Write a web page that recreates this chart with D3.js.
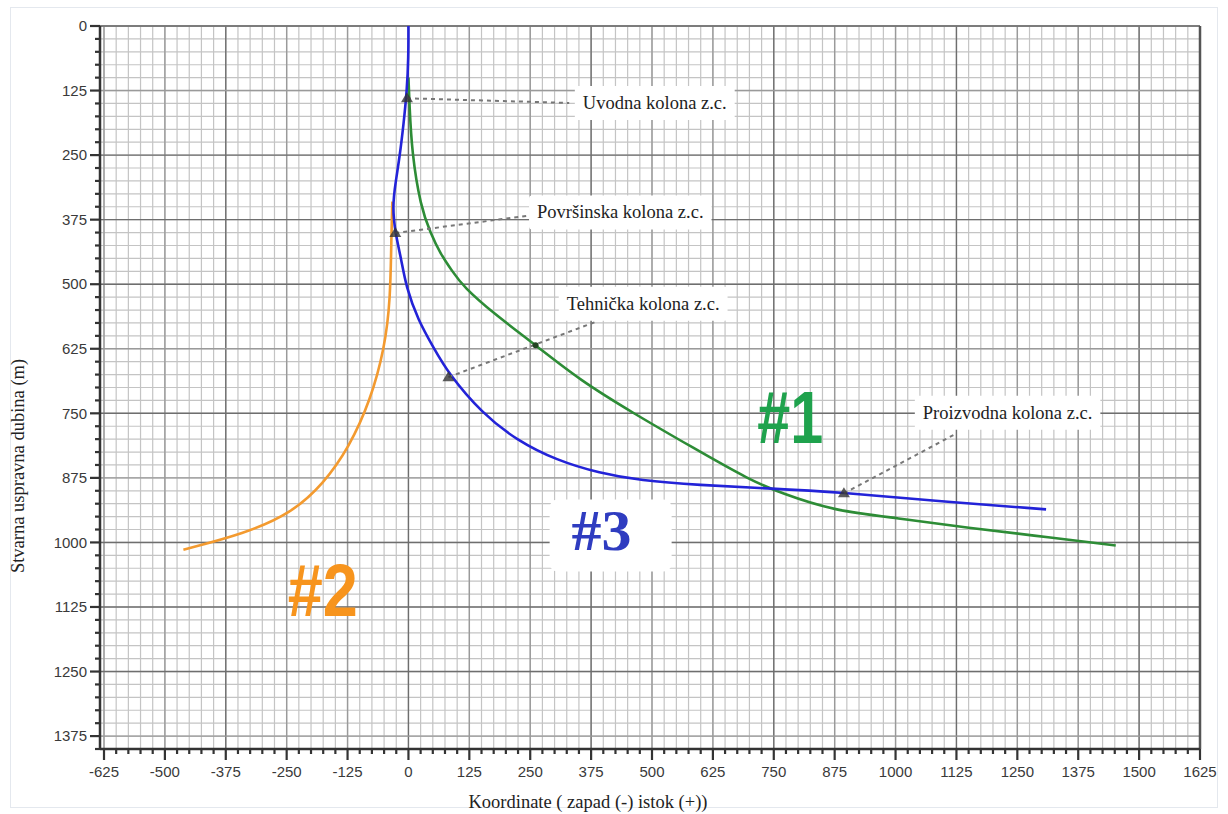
<!DOCTYPE html>
<html lang="sr">
<head>
<meta charset="utf-8">
<title>Stvarna uspravna dubina - putanje bušotina</title>
<script src="https://cdn.jsdelivr.net/npm/d3@7/dist/d3.min.js"></script>
<style>
  html, body { margin: 0; padding: 0; background: #fff; }
  svg { display: block; }
  .tick-lbl { font-family: "Liberation Sans", Arial, sans-serif; font-size: 15px; fill: #3a3a3a; }
  .axis-title { font-family: "Liberation Serif", "Times New Roman", serif; font-size: 18.5px; fill: #222; }
  .note { font-family: "Liberation Serif", "Times New Roman", serif; font-size: 18.5px; fill: #222; }
</style>
</head>
<body>
<svg id="chart"></svg>
<script>
// Podaci (očitano sa slike): [istok-zapad (m), dubina (m)]
const X_TICKS = [-625, -500, -375, -250, -125, 0, 125, 250, 375, 500, 625, 750, 875, 1000, 1125, 1250, 1375, 1500, 1625];
const Y_TICKS = [0, 125, 250, 375, 500, 625, 750, 875, 1000, 1125, 1250, 1375];
const X_DOMAIN = [-625, 1625];
const Y_DOMAIN = [0, 1400];
const MINOR_STEP = 25;

const WELL_1 = [
  [0, 100], [2, 150], [7, 246], [25, 350], [45, 400], [65, 440], [90, 475],
  [113, 505], [174, 556], [261, 618], [352, 686], [462, 750], [583, 816],
  [702, 880], [767, 905], [869, 938], [1006, 953], [1143, 971], [1278, 986], [1452, 1006]
];
const WELL_2 = [
  [-33, 340], [-35, 400], [-37, 531], [-49, 624], [-78, 725], [-122, 816],
  [-174, 886], [-241, 944], [-337, 983], [-462, 1014]
];
const WELL_3 = [
  [0, 0], [0, 60], [-3, 124], [-10, 190], [-18, 253], [-26, 300], [-33, 350],
  [-27, 401], [-15, 450], [-5, 505], [20, 570], [51, 622], [82, 673], [151, 750],
  [222, 802], [304, 841], [393, 866], [475, 880], [597, 889], [734, 895],
  [890, 903], [1074, 919], [1309, 936]
];

const WELL_NAMES = ['#1', '#2', '#3'];

// Zaštitne cijevi (z.c.) - papuče na bušotini #3
const CASING_NAMES = ['Uvodna kolona z.c.', 'Površinska kolona z.c.', 'Tehnička kolona z.c.', 'Proizvodna kolona z.c.'];
const CASING_SHOES = [[-3, 140], [-27, 401], [82, 680], [894, 905]];
const CASING_SHOE_WELL1 = [261, 618];

(function () {
  const width = 1228; const height = 814;
  const M = { left: 104, right: 1200, top: 26, bottom: 749 };

  const COLORS = { '#1': '#2d8c36', '#2': '#f39a2f', '#3': '#2323d8' };
  const TAG_COLORS = { '#1': '#1fa24d', '#2': '#f7941d', '#3': '#2f3cc0' };

  const svg = d3.select('#chart').attr('width', width).attr('height', height);

  const x = d3.scaleLinear().domain(X_DOMAIN).range([M.left, M.right]);
  const y = d3.scaleLinear().domain(Y_DOMAIN).range([M.top, M.bottom]);

  // okvir slike
  svg.append('rect').attr('x', 10.5).attr('y', 7.5).attr('width', 1207).attr('height', 800)
    .attr('fill', '#fff').attr('stroke', '#e4e8ee');

  // mreža
  const minorX = d3.range(X_DOMAIN[0], X_DOMAIN[1] + 1, MINOR_STEP);
  const minorY = d3.range(Y_DOMAIN[0], Y_DOMAIN[1] + 1, MINOR_STEP);
  const grid = svg.append('g');
  grid.selectAll('line.mx').data(minorX).join('line')
    .attr('x1', (d) => x(d)).attr('x2', (d) => x(d)).attr('y1', M.top).attr('y2', M.bottom)
    .attr('stroke', '#c4c4c4').attr('stroke-width', 1.2);
  grid.selectAll('line.my').data(minorY).join('line')
    .attr('x1', M.left - 4).attr('x2', M.right).attr('y1', (d) => y(d)).attr('y2', (d) => y(d))
    .attr('stroke', '#c4c4c4').attr('stroke-width', 1.2);
  grid.selectAll('line.Mx').data(X_TICKS).join('line')
    .attr('x1', (d) => x(d)).attr('x2', (d) => x(d)).attr('y1', M.top).attr('y2', M.bottom)
    .attr('stroke', (d) => (d % 375 === 0 ? '#6e6e6e' : '#9a9a9a')).attr('stroke-width', 1.4);
  grid.selectAll('line.My').data(Y_TICKS).join('line')
    .attr('x1', M.left - 4).attr('x2', M.right).attr('y1', (d) => y(d)).attr('y2', (d) => y(d))
    .attr('stroke', (d) => (d % 375 === 0 || d % 250 === 0 ? '#6e6e6e' : '#9a9a9a')).attr('stroke-width', 1.4);

  // okvir dijagrama
  svg.append('line').attr('x1', M.left - 4).attr('x2', M.right).attr('y1', M.top).attr('y2', M.top)
    .attr('stroke', '#777').attr('stroke-width', 1.5);
  svg.append('line').attr('x1', M.right).attr('x2', M.right).attr('y1', M.top).attr('y2', M.bottom)
    .attr('stroke', '#555').attr('stroke-width', 2.5);

  // osi
  const yAxisG = svg.append('g').attr('transform', `translate(${M.left - 4},0)`);
  yAxisG.append('line').attr('y1', M.top).attr('y2', M.bottom).attr('stroke', '#333').attr('stroke-width', 2.5);
  yAxisG.selectAll('line.t').data(minorY).join('line')
    .attr('x1', (d) => (d % 125 === 0 ? -10 : -5)).attr('x2', 0)
    .attr('y1', (d) => y(d)).attr('y2', (d) => y(d))
    .attr('stroke', '#333').attr('stroke-width', 2.2);
  yAxisG.selectAll('text').data(Y_TICKS).join('text')
    .attr('class', 'tick-lbl')
    .attr('x', -13).attr('y', (d) => y(d)).attr('dy', '0.35em')
    .attr('text-anchor', 'end')
    .text((d) => d);

  const xAxisG = svg.append('g').attr('transform', `translate(0,${M.bottom})`);
  xAxisG.append('line').attr('x1', M.left - 4).attr('x2', M.right).attr('stroke', '#333').attr('stroke-width', 2.5);
  xAxisG.selectAll('line.t').data(minorX).join('line')
    .attr('x1', (d) => x(d)).attr('x2', (d) => x(d))
    .attr('y1', 0).attr('y2', (d) => (d % 125 === 0 ? 11 : 5))
    .attr('stroke', '#333').attr('stroke-width', 2.2);
  xAxisG.selectAll('text').data(X_TICKS).join('text')
    .attr('class', 'tick-lbl')
    .attr('x', (d) => x(d)).attr('y', 28)
    .attr('text-anchor', 'middle')
    .text((d) => d);

  svg.append('text').attr('class', 'axis-title')
    .attr('transform', 'translate(24,466) rotate(-90)')
    .attr('text-anchor', 'middle')
    .text('Stvarna uspravna dubina (m)');
  svg.append('text').attr('class', 'axis-title')
    .attr('x', 588).attr('y', 808)
    .attr('text-anchor', 'middle')
    .text('Koordinate ( zapad (-) istok (+))');

  // putanje bušotina (zaglađeno)
  const line = d3.line()
    .x((d) => x(d[0])).y((d) => y(d[1]))
    .curve(d3.curveBasis);
  const wells = [WELL_1, WELL_2, WELL_3];
  svg.append('g').selectAll('path').data(wells).join('path')
    .attr('d', line)
    .attr('fill', 'none')
    .attr('stroke', (d, i) => COLORS[WELL_NAMES[i]])
    .attr('stroke-width', 2.6)
    .attr('stroke-linejoin', 'round');

  // oznake zaštitnih cijevi
  const LABEL_AT = [[358, 148], [264, 360], [325, 537], [1056, 748]];
  const LEADER_END = [[330, 149], [256, 366], [387, 572], [1125, 789]];
  const notes = svg.append('g');
  CASING_SHOES.forEach((s, i) => {
    const [sx, sy] = [x(s[0]), y(s[1])];
    const [ex, ey] = [x(LEADER_END[i][0]), y(LEADER_END[i][1])];
    notes.append('line')
      .attr('x1', sx).attr('y1', sy).attr('x2', ex).attr('y2', ey)
      .attr('stroke', '#777').attr('stroke-width', 2).attr('stroke-dasharray', '4,4');
    notes.append('path')
      .attr('d', `M${sx - 6},${sy + 4}L${sx},${sy - 6}L${sx + 6},${sy + 4}Z`)
      .attr('fill', '#333').attr('opacity', 0.8);

    const lx = x(LABEL_AT[i][0]); const ly = y(LABEL_AT[i][1]);
    const t = notes.append('text').attr('class', 'note')
      .attr('x', lx).attr('y', ly).attr('dy', '0.35em')
      .text(CASING_NAMES[i]);
    const bb = t.node().getBBox();
    notes.insert('rect', () => t.node())
      .attr('x', bb.x - 8).attr('y', bb.y - 7)
      .attr('width', bb.width + 16).attr('height', bb.height + 14)
      .attr('fill', '#fff').attr('rx', 3);
  });
  notes.append('circle')
    .attr('cx', x(CASING_SHOE_WELL1[0])).attr('cy', y(CASING_SHOE_WELL1[1]))
    .attr('r', 3).attr('fill', '#224422');

  // oznake bušotina
  const TAG_AT = { '#1': [716, 757], '#2': [-248, 1092], '#3': [335, 975] };
  const TAG_LEN = { '#1': 66, '#2': 70, '#3': 60 };
  const tags = svg.append('g');
  tags.append('rect')
    .attr('x', x(TAG_AT['#3'][0]) - 22).attr('y', y(TAG_AT['#3'][1]) - 30)
    .attr('width', 122).attr('height', 72).attr('rx', 8)
    .attr('fill', '#fff');
  WELL_NAMES.forEach((name) => {
    const isSerif = name === '#3';
    tags.append('text')
      .attr('x', x(TAG_AT[name][0])).attr('y', y(TAG_AT[name][1]))
      .attr('dy', '0.35em')
      .attr('fill', TAG_COLORS[name])
      .attr('font-family', isSerif ? '"Liberation Serif", serif' : '"Liberation Sans", Arial, sans-serif')
      .attr('font-weight', 'bold')
      .attr('font-size', isSerif ? 58 : 74)
      .attr('textLength', TAG_LEN[name])
      .attr('lengthAdjust', 'spacingAndGlyphs')
      .text(name);
  });
})();
</script>
</body>
</html>
